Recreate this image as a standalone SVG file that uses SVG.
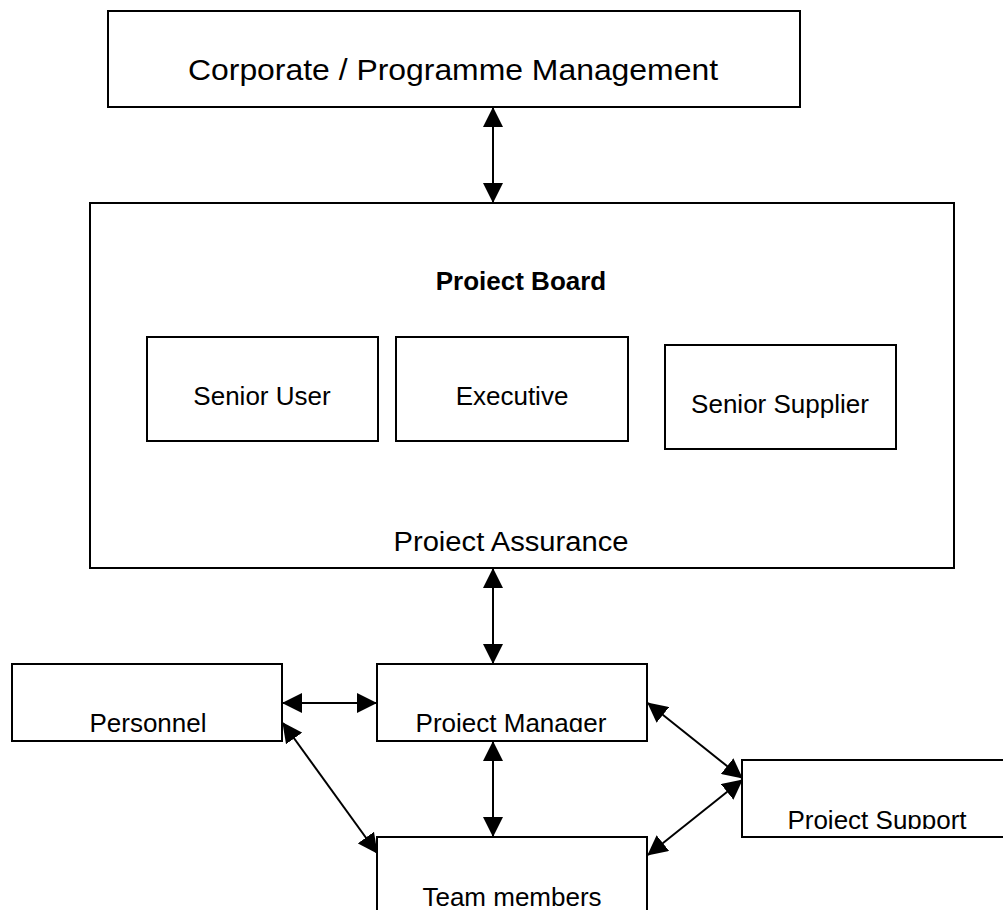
<svg xmlns="http://www.w3.org/2000/svg" width="1003" height="910" viewBox="0 0 1003 910">
<style>
.box{fill:#fff;stroke:#000;stroke-width:2}
.t{font-family:"Liberation Sans",Arial,sans-serif;font-size:26px;fill:#000;text-anchor:middle}
.b{font-weight:bold}
.c{fill:none;stroke:#000;stroke-width:2;marker-start:url(#ah);marker-end:url(#ah)}
</style>
<defs>
<marker id="ah" markerUnits="userSpaceOnUse" markerWidth="20" markerHeight="20" viewBox="0 0 20 20" refX="19" refY="10" orient="auto-start-reverse">
<path d="M0,0 L20,10 L0,20 Z" fill="#000"/>
</marker>
<clipPath id="cPB"><rect x="0" y="0" width="1003" height="290"/></clipPath>
<clipPath id="cPA"><rect x="0" y="0" width="1003" height="551"/></clipPath>
<clipPath id="cRow"><rect x="0" y="0" width="1003" height="732"/></clipPath>
<clipPath id="cPS"><rect x="0" y="0" width="1003" height="829"/></clipPath>
<clipPath id="cTM"><rect x="0" y="0" width="1003" height="907"/></clipPath>
</defs>
<rect width="1003" height="910" fill="#fff"/>
<g id="corporate">
<rect class="box" x="108" y="11" width="692" height="96"/>
<text class="t" x="453" y="80" style="font-size:30px" textLength="530" lengthAdjust="spacingAndGlyphs">Corporate / Programme Management</text>
</g>
<g id="project-board">
<rect class="box" x="90" y="203" width="864" height="365"/>
<text class="t b" x="521" y="290" clip-path="url(#cPB)">Project Board</text>
<text class="t" x="511" y="551" style="font-size:27px" textLength="235" lengthAdjust="spacingAndGlyphs" clip-path="url(#cPA)">Project Assurance</text>
</g>
<g id="senior-user">
<rect class="box" x="147" y="337" width="231" height="104"/>
<text class="t" x="262" y="405">Senior  User</text>
</g>
<g id="executive">
<rect class="box" x="396" y="337" width="232" height="104"/>
<text class="t" x="512" y="405">Executive</text>
</g>
<g id="senior-supplier">
<rect class="box" x="665" y="345" width="231" height="104"/>
<text class="t" x="780" y="413">Senior  Supplier</text>
</g>
<g id="personnel">
<rect class="box" x="12" y="664" width="270" height="77"/>
<text class="t" x="148" y="732" clip-path="url(#cRow)">Personnel</text>
</g>
<g id="project-manager">
<rect class="box" x="377" y="664" width="270" height="77"/>
<text class="t" x="511" y="732" clip-path="url(#cRow)">Project Manager</text>
</g>
<g id="project-support">
<rect class="box" x="742" y="760" width="275" height="77"/>
<text class="t" x="877" y="829" clip-path="url(#cPS)">Project Support</text>
</g>
<g id="team-members">
<rect class="box" x="377" y="837" width="270" height="90"/>
<text class="t" x="512" y="906" clip-path="url(#cTM)">Team members</text>
</g>
<g id="connectors">
<line class="c" x1="493" y1="108" x2="493" y2="202"/>
<line class="c" x1="493" y1="569" x2="493" y2="663"/>
<line class="c" x1="283" y1="703" x2="376" y2="703"/>
<line class="c" x1="283" y1="723" x2="377" y2="853"/>
<line class="c" x1="493" y1="742" x2="493" y2="836"/>
<line class="c" x1="648" y1="703" x2="742" y2="778"/>
<line class="c" x1="742" y1="780" x2="648" y2="855"/>
</g>
</svg>
